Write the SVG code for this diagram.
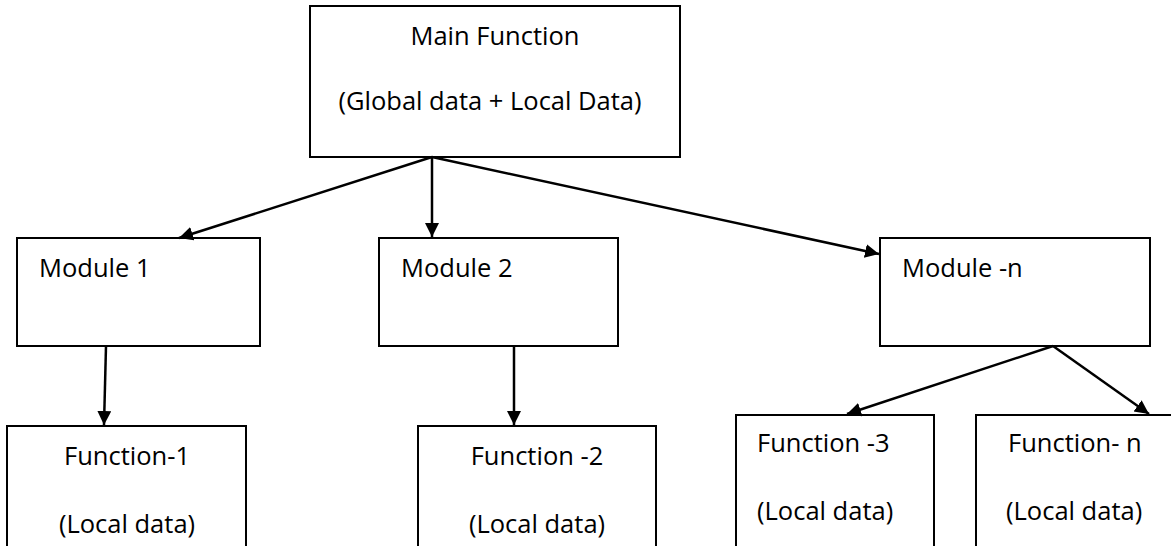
<svg xmlns="http://www.w3.org/2000/svg" width="1171" height="546" viewBox="0 0 1171 546">
<style>
.box{fill:#fff;stroke:#000;stroke-width:2}
.t{font-family:"Open Sans","Liberation Sans",sans-serif;font-size:25.5px;fill:#000}
.c{text-anchor:middle}
.e{fill:none;stroke:#000;stroke-width:2.5;marker-end:url(#ah)}
</style>
<defs>
<marker id="ah" markerUnits="userSpaceOnUse" markerWidth="16" markerHeight="16" refX="14" refY="7" orient="auto">
<path d="M0,0 L14,7 L0,14 z" fill="#000"/>
</marker>
</defs>
<rect width="1171" height="546" fill="#fff"/>
<g id="main">
<rect class="box" x="310" y="6" width="370" height="151"/>
<text class="t c" x="495" y="45">Main Function</text>
<text class="t c" x="490" y="110">(Global data + Local Data)</text>
</g>
<g id="module1">
<rect class="box" x="17" y="238" width="243" height="108"/>
<text class="t" x="39" y="277">Module 1</text>
</g>
<g id="module2">
<rect class="box" x="379" y="238" width="239" height="108"/>
<text class="t" x="401" y="277">Module 2</text>
</g>
<g id="modulen">
<rect class="box" x="880" y="238" width="270" height="108"/>
<text class="t" x="902" y="277">Module -n</text>
</g>
<g id="function1">
<rect class="box" x="7" y="426" width="239" height="130"/>
<text class="t c" x="127" y="465">Function-1</text>
<text class="t c" x="127" y="533">(Local data)</text>
</g>
<g id="function2">
<rect class="box" x="418" y="426" width="238" height="130"/>
<text class="t c" x="537" y="465">Function -2</text>
<text class="t c" x="537" y="533">(Local data)</text>
</g>
<g id="function3">
<rect class="box" x="736" y="415" width="198" height="141"/>
<text class="t" x="757" y="452">Function -3</text>
<text class="t" x="757" y="520">(Local data)</text>
</g>
<g id="functionn">
<rect class="box" x="976" y="415" width="210" height="141"/>
<text class="t" x="1008" y="452">Function- n</text>
<text class="t" x="1006" y="520">(Local data)</text>
</g>
<g id="connectors">
<path class="e" d="M432,157 L179,238"/>
<path class="e" d="M432,157 L432,237"/>
<path class="e" d="M432,157 L879,254"/>
<path class="e" d="M106,346 L104,425"/>
<path class="e" d="M514,346 L514,425"/>
<path class="e" d="M1053,346 L847,414"/>
<path class="e" d="M1053,346 L1149,414"/>
</g>
</svg>
